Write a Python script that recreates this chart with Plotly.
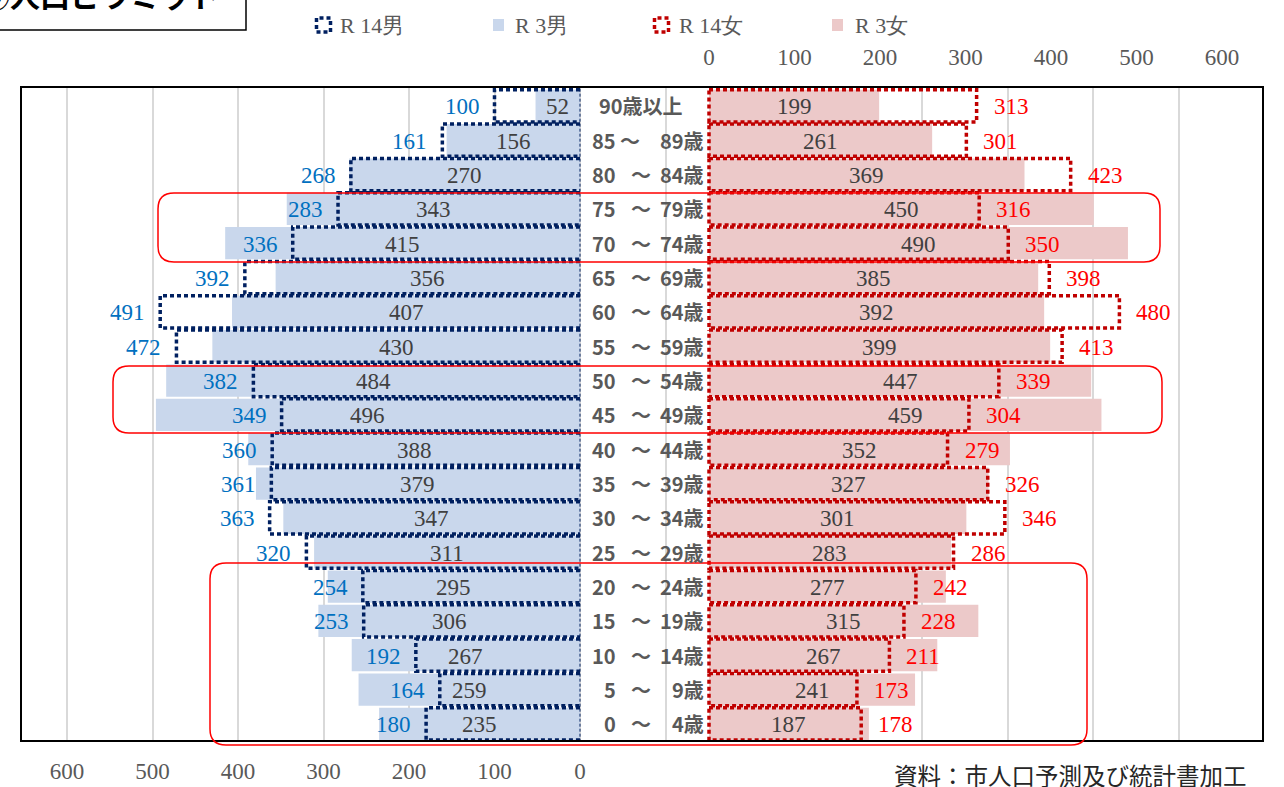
import plotly.graph_objects as go

# ---------------- data ----------------
ages = ["90歳以上", "85～89歳", "80～84歳", "75～79歳", "70～74歳", "65～69歳",
        "60～64歳", "55～59歳", "50～54歳", "45～49歳", "40～44歳", "35～39歳",
        "30～34歳", "25～29歳", "20～24歳", "15～19歳", "10～14歳", "5～9歳", "0～4歳"]
r3_male = [52, 156, 270, 343, 415, 356, 407, 430, 484, 496, 388, 379, 347, 311, 295, 306, 267, 259, 235]
r14_male = [100, 161, 268, 283, 336, 392, 491, 472, 382, 349, 360, 361, 363, 320, 254, 253, 192, 164, 180]
r3_female = [199, 261, 369, 450, 490, 385, 392, 399, 447, 459, 352, 327, 301, 283, 277, 315, 267, 241, 187]
r14_female = [313, 301, 423, 316, 350, 398, 480, 413, 339, 304, 279, 326, 346, 286, 242, 228, 211, 173, 178]
tick_vals = [0, 100, 200, 300, 400, 500, 600]
grid_vals = [600, 500, 400, 300, 200, 100, 0, -100, -200, -300, -400, -500, -600, -700]
legend_names = ["R 14男", "R 3男", "R 14女", "R 3女"]
title_text = "⑥人口ピラミッド"
source_text = "資料：市人口予測及び統計書加工"

# ---------------- style ----------------
W, H = 1284, 787
L, R, T, B = 22, 1262, 88, 740
C_M_FILL = "#c9d7ec"
C_F_FILL = "#ecc9c9"
C_M_LINE = "#002060"
C_F_LINE = "#c00000"
C_M_TXT = "#0070c0"
C_F_TXT = "#ff0000"
C_VAL = "#404040"
C_GRAY = "#595959"
SERIF = "Liberation Serif"
SANS = "Noto Sans CJK JP"
HALF = 0.47
n = len(ages)
ys = list(range(n))


def px(xp):
    return (xp - L) / (R - L)


def py(yp):
    return (B - yp) / (B - T)


def outline(vals, closed):
    xs, yy = [], []
    for i, v in enumerate(vals):
        if closed:
            xs += [0, v, v, 0, 0, None]
            yy += [i - HALF, i - HALF, i + HALF, i + HALF, i - HALF, None]
        else:
            xs += [0, v, v, 0, None]
            yy += [i - HALF, i - HALF, i + HALF, i + HALF, None]
    return xs, yy


fig = go.Figure()

# filled bars (R3)
fig.add_trace(go.Bar(x=r3_male, y=ys, orientation="h", width=0.94,
                     marker=dict(color=C_M_FILL, line=dict(width=0)),
                     name="R3男", xaxis="x", yaxis="y", hoverinfo="skip"))
fig.add_trace(go.Bar(x=r3_female, y=ys, orientation="h", width=0.94,
                     marker=dict(color=C_F_FILL, line=dict(width=0)),
                     name="R3女", xaxis="x2", yaxis="y", hoverinfo="skip"))

# dotted outlines (R14)
mx, my = outline(r14_male, False)
fig.add_trace(go.Scatter(x=mx, y=my, mode="lines", xaxis="x", yaxis="y",
                         line=dict(color=C_M_LINE, width=3.5, dash="4px,3px"),
                         name="R14男", hoverinfo="skip"))
fig.add_trace(go.Scatter(x=[0, 0], y=[-0.5, n - 0.5], mode="lines", xaxis="x", yaxis="y",
                         line=dict(color=C_M_LINE, width=1, dash="3px,2px"),
                         hoverinfo="skip"))
fx, fy = outline(r14_female, True)
fig.add_trace(go.Scatter(x=fx, y=fy, mode="lines", xaxis="x2", yaxis="y",
                         line=dict(color=C_F_LINE, width=3.5, dash="4px,3px"),
                         name="R14女", hoverinfo="skip"))

ann = []
val_font = dict(family=SERIF, size=23, color=C_VAL)
# R3 value labels (centered in bars)
for i, v in enumerate(r3_male):
    ann.append(dict(x=v / 2, y=i, xref="x", yref="y", text=str(v), showarrow=False,
                    xanchor="center", yshift=-1, font=val_font))
for i, v in enumerate(r3_female):
    ann.append(dict(x=v / 2, y=i, xref="x2", yref="y", text=str(v), showarrow=False,
                    xanchor="center", yshift=-1, font=val_font))
# R14 labels outside the dotted end
for i, v in enumerate(r14_male):
    ann.append(dict(x=v, y=i, xref="x", yref="y", text=str(v), showarrow=False,
                    xanchor="right", xshift=-13, yshift=-1,
                    font=dict(family=SERIF, size=23, color=C_M_TXT)))
for i, v in enumerate(r14_female):
    ann.append(dict(x=v, y=i, xref="x2", yref="y", text=str(v), showarrow=False,
                    xanchor="left", xshift=15, yshift=-1,
                    font=dict(family=SERIF, size=23, color=C_F_TXT)))

# category labels in the middle column
cat_font = dict(family=SANS, size=20, color=C_GRAY, weight="bold")
for i, a in enumerate(ages):
    if "～" not in a:
        ann.append(dict(x=px(597), y=i, xref="paper", yref="y", text=a, showarrow=False,
                        xanchor="left", font=cat_font))
        continue
    lo, hi = a.split("～")
    ann.append(dict(x=px(618), y=i, xref="paper", yref="y", text=lo, showarrow=False,
                    xanchor="right", font=cat_font))
    tx = 630 if i == 1 else 641
    ann.append(dict(x=px(tx), y=i, xref="paper", yref="y", text="～", showarrow=False,
                    xanchor="center", font=cat_font))
    ann.append(dict(x=px(706), y=i, xref="paper", yref="y", text=hi, showarrow=False,
                    xanchor="right", font=cat_font))

shapes = []
# custom legend
leg_y = 25
leg_items = [(315, 338, C_M_LINE, True), (493, 513, C_M_FILL, False),
             (653, 677, C_F_LINE, True), (832, 853, C_F_FILL, False)]
for (ix, tx, col, dotted), name in zip(leg_items, legend_names):
    if dotted:
        shapes.append(dict(type="rect", xref="paper", yref="paper",
                           x0=px(ix + 1.5), x1=px(ix + 15.5), y0=py(leg_y + 7), y1=py(leg_y - 7),
                           line=dict(color=col, width=3.5, dash="4px,3px"), fillcolor="rgba(0,0,0,0)"))
    else:
        shapes.append(dict(type="rect", xref="paper", yref="paper",
                           x0=px(ix), x1=px(ix + 11), y0=py(leg_y + 6), y1=py(leg_y - 6),
                           line=dict(width=0), fillcolor=col))
    ann.append(dict(x=px(tx), y=py(leg_y), xref="paper", yref="paper", text=name,
                    showarrow=False, xanchor="left", yanchor="middle",
                    font=dict(family=SERIF, size=22, color=C_GRAY)))


# red rounded highlight boxes
def rounded(x0, y0, x1, y1, r):
    pts = [("M", [(x0 + r, y0)]), ("L", [(x1 - r, y0)]), ("Q", [(x1, y0), (x1, y0 + r)]),
           ("L", [(x1, y1 - r)]), ("Q", [(x1, y1), (x1 - r, y1)]), ("L", [(x0 + r, y1)]),
           ("Q", [(x0, y1), (x0, y1 - r)]), ("L", [(x0, y0 + r)]), ("Q", [(x0, y0), (x0 + r, y0)])]
    s = ""
    for cmd, ps in pts:
        s += cmd + " " + " ".join(f"{px(a):.5f},{py(b):.5f}" for a, b in ps) + " "
    return s + "Z"


for box in [(158, 193, 1160, 262), (113, 366, 1162, 433), (210, 563, 1087, 745)]:
    shapes.append(dict(type="path", xref="paper", yref="paper", path=rounded(*box, 16),
                       line=dict(color="#ff0000", width=1.5), fillcolor="rgba(0,0,0,0)"))

# title box (cut off at the top, as in the source)
shapes.append(dict(type="rect", xref="paper", yref="paper", x0=px(-10), x1=px(246),
                   y0=py(30), y1=py(-40), line=dict(color="black", width=1.5), fillcolor="white"))
ann.append(dict(x=px(222), y=py(-6), xref="paper", yref="paper", text=title_text,
                showarrow=False, xanchor="right", yanchor="middle",
                font=dict(family=SANS, size=30, color="black", weight="bold")))

# source note
ann.append(dict(x=px(1249), y=py(775), xref="paper", yref="paper", text=source_text,
                showarrow=False, xanchor="right", yanchor="middle",
                font=dict(family=SANS, size=23.5, color="#262626")))

# axis ranges from the pixel scale (0.855 px per person)
scale = 513 / 600
m_range = [(580 - L) / scale, (580 - R) / scale]
f_range = [(L - 709) / scale, (R - 709) / scale]

fig.update_layout(
    width=W, height=H,
    margin=dict(l=L, r=W - R, t=T, b=H - B, pad=0, autoexpand=False),
    paper_bgcolor="white", plot_bgcolor="white",
    barmode="overlay", showlegend=False,
    xaxis=dict(range=m_range, tickvals=grid_vals, automargin=False,
               ticktext=[str(v) if v >= 0 else "" for v in grid_vals],
               showgrid=True, gridcolor="#d9d9d9", gridwidth=1.5, zeroline=False,
               showline=True, linecolor="black", linewidth=2, mirror=True,
               ticks="outside", ticklen=9, tickcolor="rgba(0,0,0,0)",
               tickfont=dict(family=SERIF, size=23, color=C_GRAY)),
    xaxis2=dict(range=f_range, overlaying="x", side="top", tickvals=tick_vals, automargin=False,
                showgrid=False, zeroline=False, showline=False,
                ticks="outside", ticklen=13, tickcolor="rgba(0,0,0,0)",
                tickfont=dict(family=SERIF, size=23, color=C_GRAY)),
    yaxis=dict(range=[n - 0.53, -0.52], showticklabels=False, showgrid=False, automargin=False,
               zeroline=False, showline=True, linecolor="black", linewidth=2, mirror=True),
    shapes=shapes, annotations=ann,
)

fig.write_html("out.html", config={"displayModeBar": False},
               post_script="document.body.style.margin='0';")
